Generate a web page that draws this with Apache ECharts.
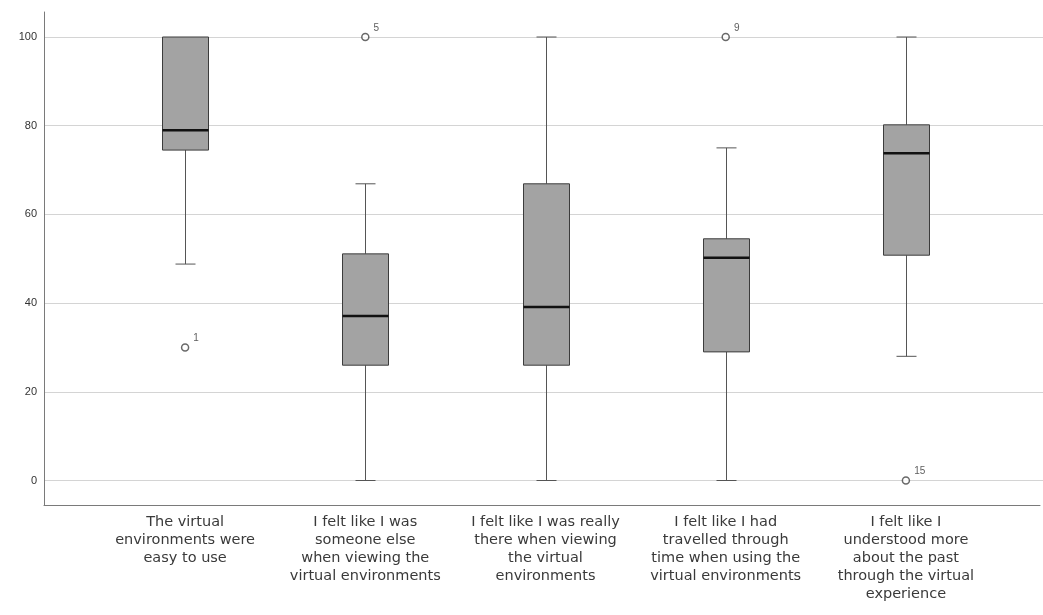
<!DOCTYPE html>
<html>
<head>
<meta charset="utf-8">
<script src="https://cdn.jsdelivr.net/npm/echarts@6/dist/echarts.min.js"></script>
<style>html,body{margin:0;padding:0;background:#fff}#c{width:1043px;height:615px}</style>
</head>
<body>
<div id="c"></div>
<script>
const categories = [
  "The virtual\nenvironments were\neasy to use",
  "I felt like I was\nsomeone else\nwhen viewing the\nvirtual environments",
  "I felt like I was really\nthere when viewing\nthe virtual\nenvironments",
  "I felt like I had\ntravelled through\ntime when using the\nvirtual environments",
  "I felt like I\nunderstood more\nabout the past\nthrough the virtual\nexperience"
];
const whiskerLow = [48.8, 0, 0, 0, 28];
const q1 = [74.5, 26, 26, 29, 50.8];
const median = [79, 37.1, 39.1, 50.2, 73.8];
const q3 = [100, 51.1, 66.9, 54.5, 80.2];
const whiskerHigh = [100, 66.9, 100, 75, 100];
const outlierCat = [0, 1, 3, 4];
const outlierVal = [30, 100, 100, 0];
const outlierId = ["1", "5", "9", "15"];
const yTicks = [0, 20, 40, 60, 80, 100];

const boxData = categories.map((c, i) => [i, whiskerLow[i], q1[i], median[i], q3[i], whiskerHigh[i]]);
const outData = outlierCat.map((c, i) => [c, outlierVal[i]]);

const chart = echarts.init(document.getElementById('c'), null, {renderer: 'canvas'});
const font = '"Liberation Sans", Arial, sans-serif';
const labelFont = '"DejaVu Sans", sans-serif';

chart.setOption({
  animation: false,
  backgroundColor: '#fff',
  grid: [
    {left: 44, right: 3, top: 12, bottom: 110},
    {left: 44, right: 0, top: 37, bottom: 134.5},
    {left: 95, right: 47, top: 37, bottom: 134.5}
  ],
  xAxis: [
    {gridIndex: 0, type: 'value', min: 0, max: 1, axisLine: {show: true, lineStyle: {color: '#7a7a7a', width: 1}}, axisTick: {show: false}, axisLabel: {show: false}, splitLine: {show: false}},
    {gridIndex: 1, type: 'value', min: 0, max: 1, show: false},
    {gridIndex: 2, type: 'category', data: categories, axisLine: {show: false}, axisTick: {show: false}, splitLine: {show: false},
      axisLabel: {margin: 33, interval: 0, color: '#3a3a3a', fontFamily: labelFont, fontSize: 14.5, lineHeight: 18, align: 'center', verticalAlign: 'top'}}
  ],
  yAxis: [
    {gridIndex: 0, type: 'value', min: 0, max: 1, axisLine: {show: true, lineStyle: {color: '#7a7a7a', width: 1}}, axisTick: {show: false}, axisLabel: {show: false}, splitLine: {show: false}},
    {gridIndex: 1, type: 'value', min: yTicks[0], max: yTicks[yTicks.length - 1], interval: 20,
      axisLine: {show: false}, axisTick: {show: false},
      axisLabel: {margin: 7, color: '#333', fontFamily: font, fontSize: 11},
      splitLine: {show: true, lineStyle: {color: '#d4d4d4', width: 1}}},
    {gridIndex: 2, type: 'value', min: 0, max: 100, show: false}
  ],
  series: [
    {
      type: 'custom',
      xAxisIndex: 2, yAxisIndex: 2,
      data: boxData,
      encode: {x: 0, y: [1, 2, 3, 4, 5]},
      renderItem: function (params, api) {
        const x = api.value(0);
        const lo = api.coord([x, api.value(1)]);
        const b1 = api.coord([x, api.value(2)]);
        const md = api.coord([x, api.value(3)]);
        const b3 = api.coord([x, api.value(4)]);
        const hi = api.coord([x, api.value(5)]);
        const cx = Math.round(lo[0]) + 0.5;
        const hw = 23, cap = 10;
        const wStyle = {stroke: '#555', lineWidth: 1};
        const children = [];
        if (hi[1] < b3[1] - 0.5) {
          children.push({type: 'line', shape: {x1: cx, y1: hi[1], x2: cx, y2: b3[1]}, style: wStyle});
          children.push({type: 'line', shape: {x1: cx - cap, y1: hi[1], x2: cx + cap, y2: hi[1]}, style: wStyle});
        }
        if (lo[1] > b1[1] + 0.5) {
          children.push({type: 'line', shape: {x1: cx, y1: b1[1], x2: cx, y2: lo[1]}, style: wStyle});
          children.push({type: 'line', shape: {x1: cx - cap, y1: lo[1], x2: cx + cap, y2: lo[1]}, style: wStyle});
        }
        children.push({type: 'rect', shape: {x: cx - hw, y: b3[1], width: 2 * hw, height: b1[1] - b3[1]}, style: {fill: '#a3a3a3', stroke: '#3c3c3c', lineWidth: 1}});
        children.push({type: 'line', shape: {x1: cx - hw, y1: md[1], x2: cx + hw, y2: md[1]}, style: {stroke: '#111', lineWidth: 2.5}});
        return {type: 'group', children: children};
      }
    },
    {
      type: 'scatter',
      xAxisIndex: 2, yAxisIndex: 2,
      data: outData,
      symbol: 'circle', symbolSize: 7,
      itemStyle: {color: '#fff', borderColor: '#444', borderWidth: 1.5},
      label: {show: true, position: 'right', offset: [-1, -9], fontFamily: font, fontSize: 10, color: '#333',
        formatter: p => outlierId[p.dataIndex]}
    }
  ]
});
</script>
</body>
</html>
